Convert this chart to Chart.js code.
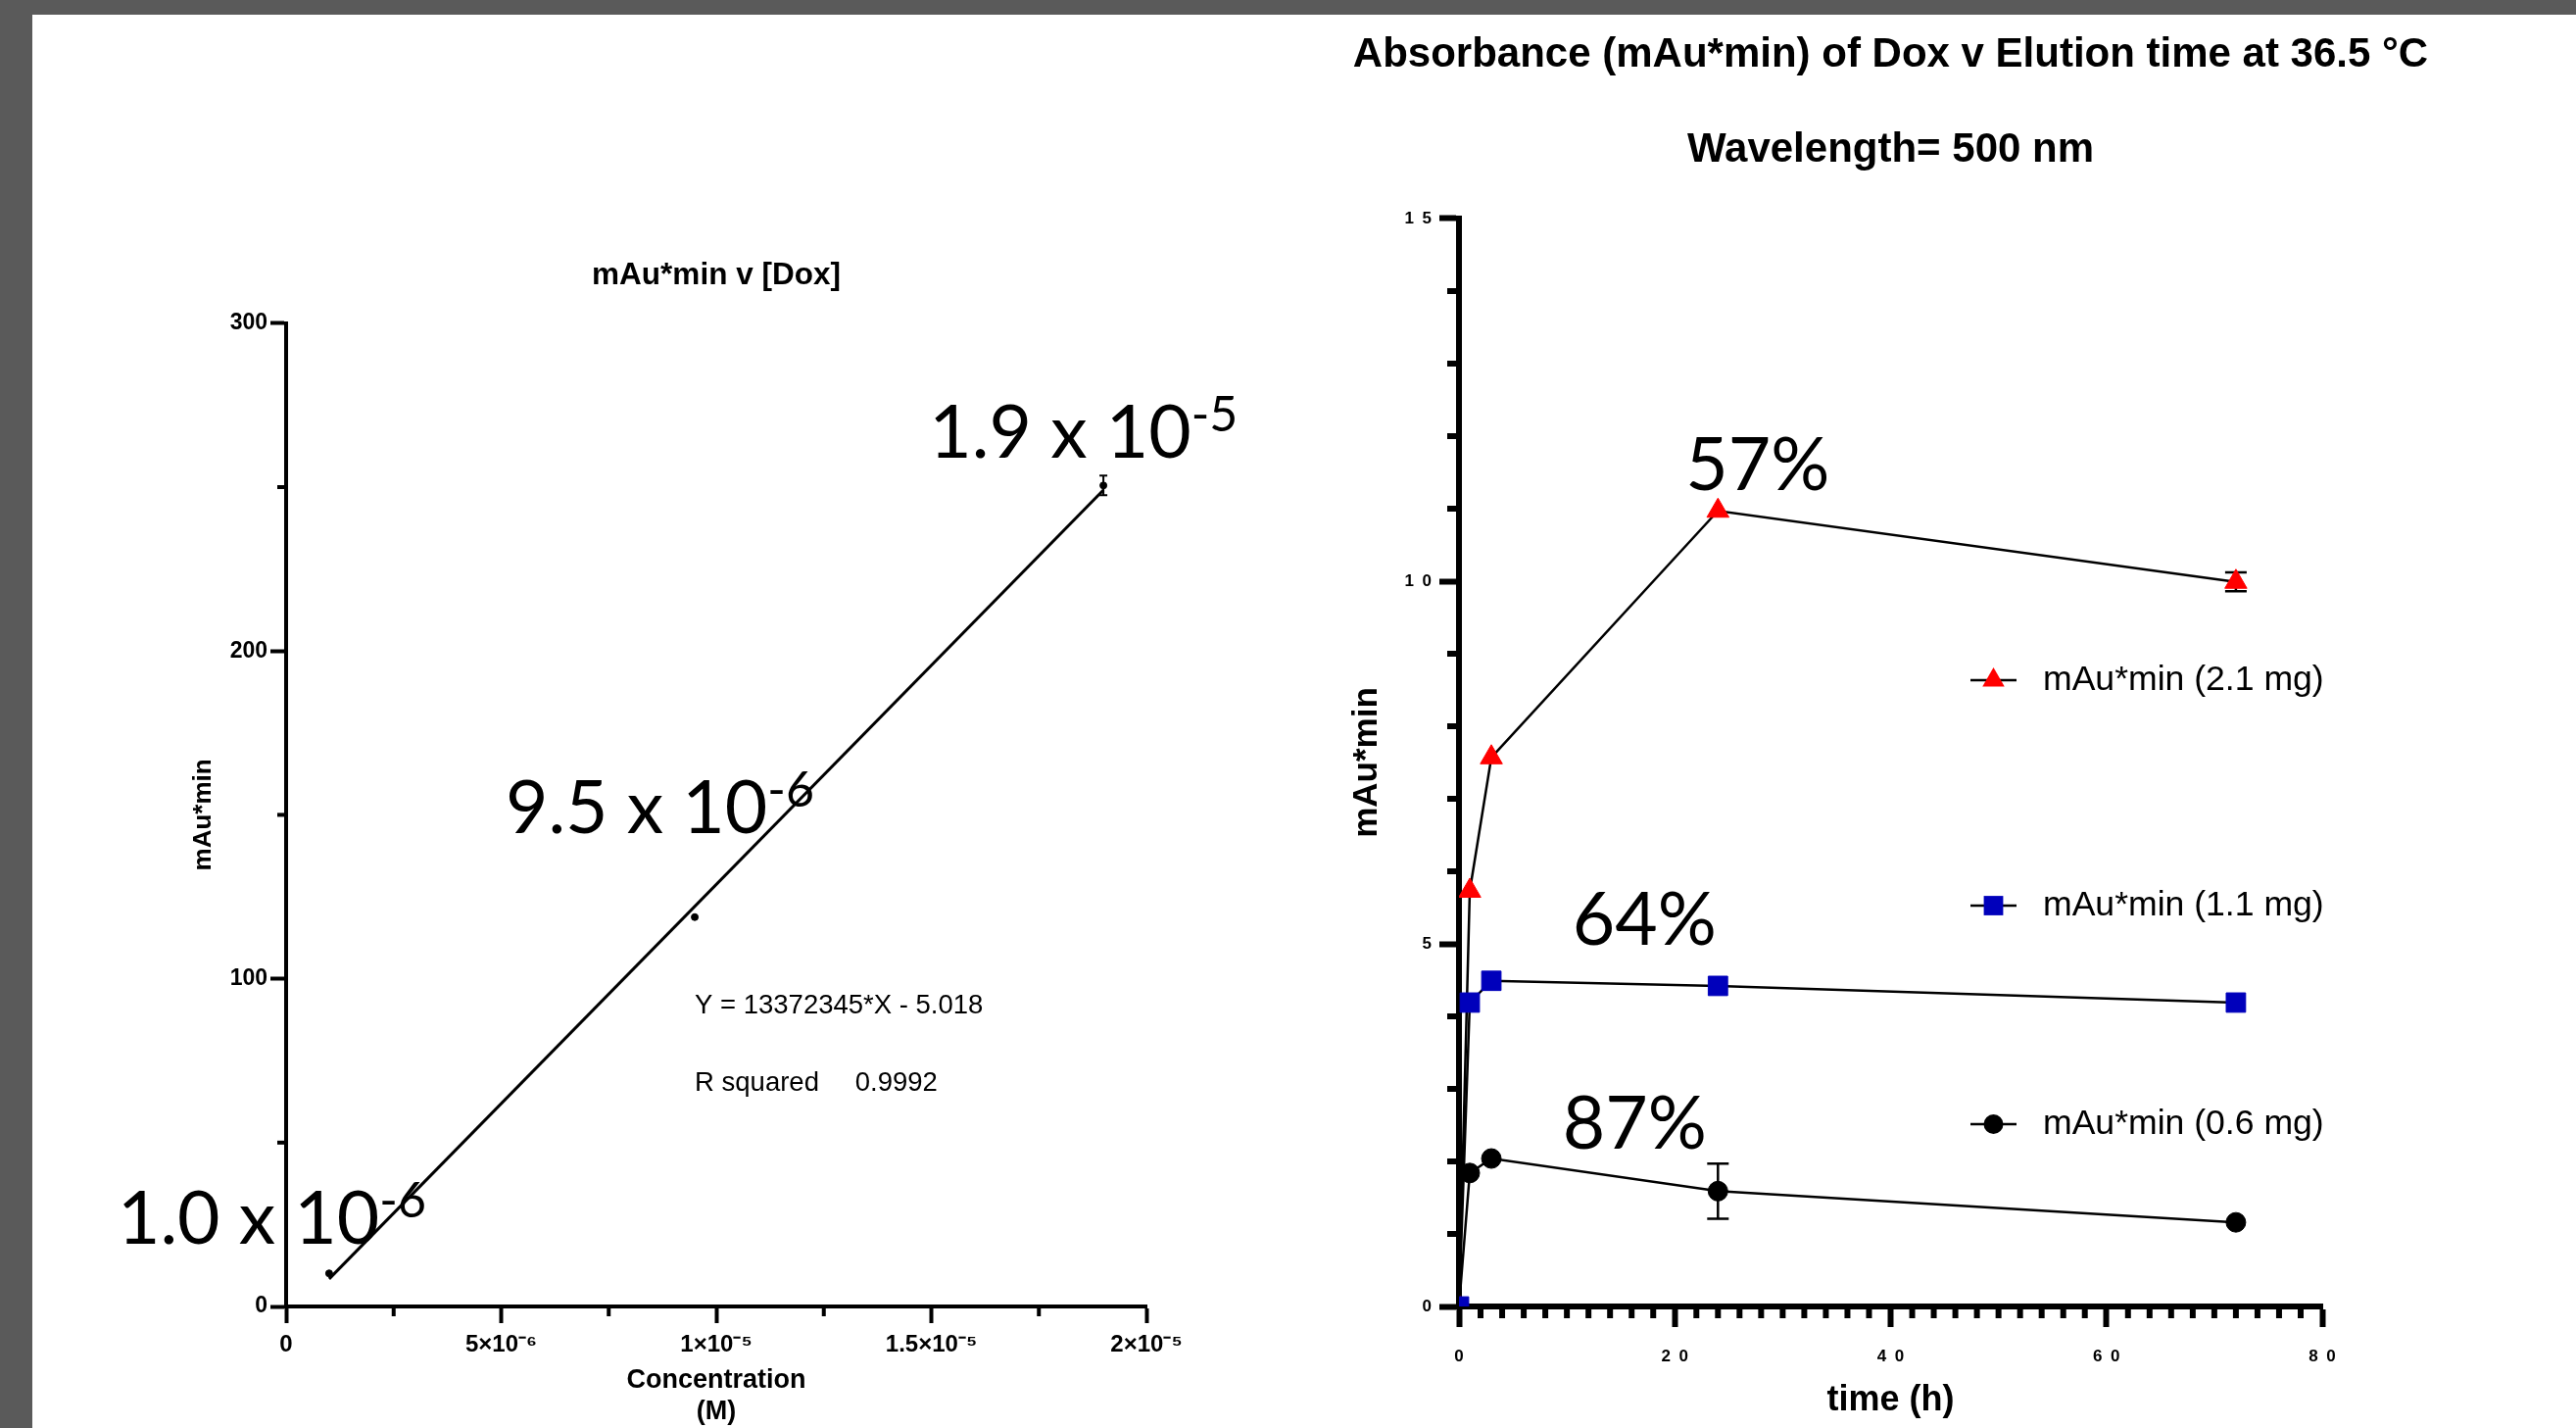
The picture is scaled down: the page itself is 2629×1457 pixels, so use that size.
<!DOCTYPE html>
<html>
<head>
<meta charset="utf-8">
<script src="https://cdn.jsdelivr.net/npm/chart.js@4/dist/chart.umd.min.js"></script>
<style>
  html, body { margin: 0; padding: 0; }
  body { width: 2629px; height: 1457px; background: #5a5a5a; position: relative; overflow: hidden; }
  #page { position: absolute; left: 33px; top: 15px; right: 0; bottom: 0; background: #fff; }
  #calib { position: absolute; left: 0; top: 0; }
  #elution { position: absolute; left: 1330px; top: 0; }
</style>
</head>
<body>
<div id="page"></div>
<canvas id="calib" width="1330" height="1457"></canvas>
<canvas id="elution" width="1299" height="1457"></canvas>
<script>
// calibration curve: mAu*min v [Dox]
const concM = [1.0e-6, 9.5e-6, 1.9e-5];
const areaDox = [10.1, 118.8, 250.5];
const areaDoxErr = [0, 0, 3];
const fitX = [1.0e-6, 1.9e-5];
const fitY = [8.4, 249.1];
const concTicks = [0, 5e-6, 1e-5, 1.5e-5, 2e-5];
const concTickLabels = ['0', '5×10⁻⁶', '1×10⁻⁵', '1.5×10⁻⁵', '2×10⁻⁵'];
const concNoteText = ['1.9 x 10', '9.5 x 10', '1.0 x 10'];
const concNoteSup = ['-5', '-6', '-6'];
const concNoteX = [1.495e-5, 5.1e-6, -3.92e-6];
const concNoteY = [259, 144.5, 19.1];
const fitText = ['Y = 13372345*X - 5.018', 'R squared', '0.9992'];
const fitTextX = [9.5e-6, 9.5e-6, 1.323e-5];
const fitTextY = [89.4, 65.8, 65.8];

// elution over time
const timeH = [0, 1, 3, 24, 72];
const mg21 = [0, 5.73, 7.57, 10.97, 9.99];
const mg21Err = [0, 0, 0, 0, 0.13];
const mg11 = [0, 4.19, 4.49, 4.42, 4.19];
const mg11Err = [0, 0, 0, 0, 0];
const mg06 = [0, 1.84, 2.04, 1.59, 1.16];
const mg06Err = [0, 0, 0, 0.38, 0];
const seriesNames = ['mAu*min (2.1 mg)', 'mAu*min (1.1 mg)', 'mAu*min (0.6 mg)'];
const pctText = ['57%', '64%', '87%'];
const pctX = [21.0, 10.5, 9.6];
const pctY = [11.26, 4.99, 2.18];

Chart.defaults.font.family = "'Liberation Sans', Arial, sans-serif";
Chart.defaults.color = '#000';

const BIG = "75px Lato, 'Open Sans', sans-serif";
const SUP = "50px Lato, 'Open Sans', sans-serif";
const SMALL = "27.5px 'Liberation Sans', Arial, sans-serif";

function pts(xs, ys) { return xs.map((x, i) => ({x: x, y: ys[i]})); }
// GraphPad-style spaced digits, e.g. 15 -> "1 5"
function spaced(v) { return String(v).split('').join('\u2002'); }

function marker(ctx, style, r, x, y, color) {
  ctx.fillStyle = color;
  ctx.beginPath();
  if (style === 'triangle') {
    for (let k = 0; k < 3; k++) {
      const a = k * 2 * Math.PI / 3;
      ctx.lineTo(x + Math.sin(a) * r, y - Math.cos(a) * r);
    }
  } else if (style === 'rect') {
    const s = r * Math.SQRT1_2;
    ctx.rect(x - s, y - s, 2 * s, 2 * s);
  } else {
    ctx.arc(x, y, r, 0, Math.PI * 2);
  }
  ctx.closePath();
  ctx.fill();
}

const minorTicks = {
  id: 'minorTicks',
  afterDraw(chart, args, opts) {
    const ctx = chart.ctx, area = chart.chartArea;
    ctx.save();
    ctx.strokeStyle = '#000';
    ['x', 'y'].forEach(id => {
      const o = opts[id];
      if (!o) return;
      const s = chart.scales[id];
      const n = Math.round((s.max - s.min) / o.step);
      ctx.lineWidth = o.width;
      for (let i = 0; i <= n; i++) {
        if (i % o.every === 0) continue;
        const p = s.getPixelForValue(s.min + i * o.step);
        ctx.beginPath();
        if (id === 'x') { ctx.moveTo(p, area.bottom); ctx.lineTo(p, area.bottom + o.len); }
        else { ctx.moveTo(area.left, p); ctx.lineTo(area.left - o.len, p); }
        ctx.stroke();
      }
    });
    ctx.restore();
  }
};

// error bars go under the markers
const errorBars = {
  id: 'errorBars',
  beforeDatasetsDraw(chart, args, opts) {
    const ctx = chart.ctx, xs = chart.scales.x, ys = chart.scales.y;
    ctx.save();
    ctx.strokeStyle = '#000';
    ctx.lineWidth = opts.width;
    chart.data.datasets.forEach(ds => {
      if (!ds.errors) return;
      ds.data.forEach((p, i) => {
        const e = ds.errors[i];
        if (!e) return;
        const px = xs.getPixelForValue(p.x);
        const t = ys.getPixelForValue(p.y + e), b = ys.getPixelForValue(p.y - e);
        ctx.beginPath();
        ctx.moveTo(px, t); ctx.lineTo(px, b);
        ctx.moveTo(px - opts.cap, t); ctx.lineTo(px + opts.cap, t);
        ctx.moveTo(px - opts.cap, b); ctx.lineTo(px + opts.cap, b);
        ctx.stroke();
      });
    });
    ctx.restore();
  }
};

const textNotes = {
  id: 'textNotes',
  afterDraw(chart, args, opts) {
    const ctx = chart.ctx, xs = chart.scales.x, ys = chart.scales.y;
    ctx.save();
    ctx.fillStyle = '#000';
    ctx.textAlign = 'left';
    ctx.textBaseline = 'alphabetic';
    opts.items.forEach(n => {
      const px = xs.getPixelForValue(n.x), py = ys.getPixelForValue(n.y);
      ctx.font = n.font;
      ctx.fillText(n.text, px, py);
      if (n.sup) {
        const w = ctx.measureText(n.text).width;
        ctx.font = SUP;
        ctx.fillText(n.sup, px + w, py - 27);
      }
    });
    ctx.restore();
  }
};

const sideLegend = {
  id: 'sideLegend',
  afterDraw(chart, args, opts) {
    const ctx = chart.ctx;
    ctx.save();
    chart.data.datasets.forEach((ds, i) => {
      const y = opts.rows[i];
      ctx.strokeStyle = '#000';
      ctx.lineWidth = 2.5;
      ctx.beginPath();
      ctx.moveTo(opts.x0, y); ctx.lineTo(opts.x1, y);
      ctx.stroke();
      marker(ctx, ds.pointStyle, ds.pointRadius, (opts.x0 + opts.x1) / 2, y, ds.pointBackgroundColor);
      ctx.fillStyle = '#000';
      ctx.font = "35.6px 'Liberation Sans', Arial, sans-serif";
      ctx.textBaseline = 'middle';
      ctx.textAlign = 'left';
      ctx.fillText(ds.label, opts.tx, y);
    });
    ctx.restore();
  }
};

const calibNotes = concNoteText.map((t, i) => ({x: concNoteX[i], y: concNoteY[i], text: t, sup: concNoteSup[i], font: BIG}))
  .concat(fitText.map((t, i) => ({x: fitTextX[i], y: fitTextY[i], text: t, font: SMALL})));

new Chart(document.getElementById('calib'), {
  type: 'scatter',
  data: {
    datasets: [
      {
        label: 'fit',
        data: pts(fitX, fitY),
        showLine: true,
        borderColor: '#000',
        borderWidth: 3,
        pointRadius: 0
      },
      {
        label: 'mAu*min',
        data: pts(concM, areaDox),
        errors: areaDoxErr,
        showLine: false,
        pointRadius: 3.5,
        pointBackgroundColor: '#000',
        pointBorderColor: '#000'
      }
    ]
  },
  options: {
    responsive: false,
    devicePixelRatio: 1,
    animation: false,
    events: [],
    layout: { padding: { left: 0, right: 160, top: 0, bottom: 0 } },
    scales: {
      x: {
        type: 'linear',
        min: 0,
        max: 2e-5,
        afterBuildTicks: s => { s.ticks = concTicks.map(v => ({value: v})); },
        afterFit: s => { s.height = 124; },
        ticks: {
          autoSkip: false,
          maxRotation: 0,
          padding: 8,
          font: { size: 24, weight: 'bold' },
          callback: (v, i) => concTickLabels[i]
        },
        grid: { drawOnChartArea: false, tickLength: 17, tickWidth: 4, tickColor: '#000' },
        border: { width: 4, color: '#000' },
        title: {
          display: true,
          text: ['Concentration', '(M)'],
          font: { size: 27, weight: 'bold' },
          padding: { top: 0, bottom: 0 }
        }
      },
      y: {
        min: 0,
        max: 300,
        afterFit: s => { s.width = 292; },
        ticks: { stepSize: 100, padding: 3, font: { size: 23, weight: 'bold' } },
        grid: { drawOnChartArea: false, tickLength: 16, tickWidth: 4, tickColor: '#000' },
        border: { width: 4, color: '#000' },
        title: {
          display: true,
          text: 'mAu*min',
          font: { size: 26, weight: 'bold' },
          padding: { top: 192, bottom: 0 }
        }
      }
    },
    plugins: {
      legend: { display: false },
      tooltip: { enabled: false },
      title: {
        display: true,
        text: 'mAu*min v [Dox]',
        fullSize: false,
        font: { size: 31.5, weight: 'bold' },
        padding: { top: 262, bottom: 30 }
      },
      minorTicks: {
        x: { step: 2.5e-6, every: 2, len: 10, width: 4 },
        y: { step: 50, every: 2, len: 9, width: 4 }
      },
      errorBars: { width: 2, cap: 4 },
      textNotes: { items: calibNotes }
    }
  },
  plugins: [minorTicks, errorBars, textNotes]
});

const pctNotes = pctText.map((t, i) => ({x: pctX[i], y: pctY[i], text: t, font: BIG}));

new Chart(document.getElementById('elution'), {
  type: 'scatter',
  data: {
    datasets: [
      {
        label: seriesNames[0],
        data: pts(timeH, mg21),
        errors: mg21Err,
        showLine: true,
        borderColor: '#000',
        borderWidth: 2.5,
        pointStyle: 'triangle',
        pointRadius: 13,
        pointBackgroundColor: '#ff0000',
        pointBorderColor: '#ff0000',
        pointBorderWidth: 1,
        order: 1,
        clip: 0
      },
      {
        label: seriesNames[1],
        data: pts(timeH, mg11),
        errors: mg11Err,
        showLine: true,
        borderColor: '#000',
        borderWidth: 2.5,
        pointStyle: 'rect',
        pointRadius: 14,
        pointBackgroundColor: '#0000bb',
        pointBorderColor: '#0000bb',
        pointBorderWidth: 1,
        order: 0,
        clip: 0
      },
      {
        label: seriesNames[2],
        data: pts(timeH, mg06),
        errors: mg06Err,
        showLine: true,
        borderColor: '#000',
        borderWidth: 2.5,
        pointStyle: 'circle',
        pointRadius: 10,
        pointBackgroundColor: '#000',
        pointBorderColor: '#000',
        pointBorderWidth: 1,
        order: 2,
        clip: 0
      }
    ]
  },
  options: {
    responsive: false,
    devicePixelRatio: 1,
    animation: false,
    events: [],
    layout: { padding: { left: 0, right: 100, top: 0, bottom: 0 } },
    scales: {
      x: {
        type: 'linear',
        min: 0,
        max: 80,
        afterFit: s => { s.height = 124; },
        ticks: {
          stepSize: 20,
          autoSkip: false,
          maxRotation: 0,
          padding: 20,
          font: { size: 17, weight: 'bold' },
          callback: spaced
        },
        grid: { drawOnChartArea: false, tickLength: 21, tickWidth: 6, tickColor: '#000' },
        border: { width: 6, color: '#000' },
        title: {
          display: true,
          text: 'time (h)',
          font: { size: 36, weight: 'bold' },
          padding: { top: 0, bottom: 6 }
        }
      },
      y: {
        min: 0,
        max: 15,
        afterFit: s => { s.width = 159; },
        ticks: {
          stepSize: 5,
          padding: 8,
          font: { size: 17, weight: 'bold' },
          callback: spaced
        },
        grid: { drawOnChartArea: false, tickLength: 20, tickWidth: 6, tickColor: '#000' },
        border: { width: 6, color: '#000' },
        title: {
          display: true,
          text: 'mAu*min',
          font: { size: 35, weight: 'bold' },
          padding: { top: 44, bottom: 0 }
        }
      },
      // empty right-hand box, same width as the y axis, so the title centres over the plot
      yRight: {
        position: 'right',
        afterFit: s => { s.width = 159; },
        ticks: { display: false },
        grid: { display: false },
        border: { display: false }
      }
    },
    plugins: {
      legend: { display: false },
      tooltip: { enabled: false },
      title: {
        display: true,
        text: ['Absorbance (mAu*min) of Dox v Elution time at 36.5 °C', 'Wavelength= 500 nm'],
        font: { size: 42, weight: 'bold', lineHeight: 97 / 42 },
        padding: { top: 8, bottom: 21 }
      },
      minorTicks: {
        x: { step: 2, every: 10, len: 12, width: 6 },
        y: { step: 1, every: 5, len: 12, width: 6 }
      },
      errorBars: { width: 2.5, cap: 11 },
      textNotes: { items: pctNotes },
      sideLegend: { rows: [694, 924, 1147], x0: 681, x1: 728, tx: 755 }
    }
  },
  plugins: [minorTicks, errorBars, textNotes, sideLegend]
});
</script>
</body>
</html>
